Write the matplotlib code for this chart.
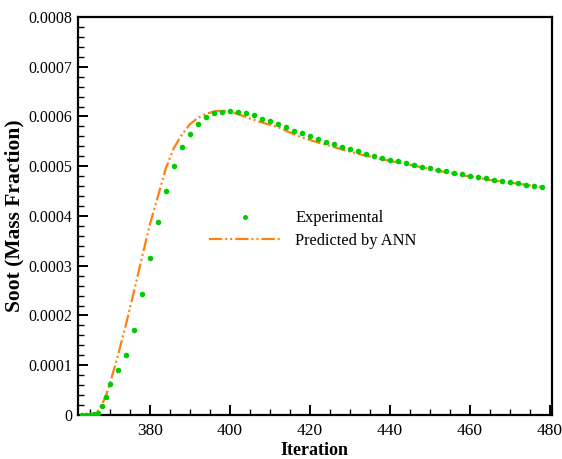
import matplotlib
matplotlib.use("Agg")
import matplotlib.pyplot as plt
from matplotlib.ticker import MultipleLocator, FixedLocator
import numpy as np

plt.rcParams['font.family'] = ['Liberation Serif', 'DejaVu Serif']
plt.rcParams['lines.scale_dashes'] = False

# experimental soot mass fraction
exp_iter = [363, 364, 365, 366, 367, 368, 369, 370, 372, 374, 376, 378, 380, 382, 384,
            386, 388, 390, 392, 394, 396, 398, 400, 402, 404, 406, 408, 410, 412, 414,
            416, 418, 420, 422, 424, 426, 428, 430, 432, 434, 436, 438, 440, 442, 444,
            446, 448, 450, 452, 454, 456, 458, 460, 462, 464, 466, 468, 470, 472, 474,
            476, 478]
exp_soot = [0.0, 0.0, 0.0000005, 0.000001, 0.0000046, 0.0000175, 0.000037, 0.000062,
            0.000091, 0.00012, 0.000171, 0.000243, 0.000316, 0.000387, 0.00045,
            0.0005, 0.000538, 0.000565, 0.000585, 0.000598, 0.000606, 0.00061, 0.000611,
            0.00061, 0.000606, 0.000602, 0.000595, 0.00059, 0.000584, 0.000578,
            0.000571, 0.000567, 0.000561, 0.000554, 0.000549, 0.000544, 0.000539,
            0.000535, 0.00053, 0.000525, 0.000521, 0.000517, 0.000513, 0.00051,
            0.000507, 0.000503, 0.000499, 0.000496, 0.000493, 0.00049, 0.000486,
            0.000484, 0.000481, 0.000478, 0.000476, 0.000473, 0.00047, 0.000468,
            0.000466, 0.000463, 0.00046, 0.000458]

# ANN prediction
ann_iter = [363, 365, 366, 367, 368, 369, 370, 372, 374, 376, 378, 380, 382, 384, 386,
            388, 390, 392, 394, 396, 398, 400, 402, 405, 408, 412, 415, 418, 422, 425,
            428, 432, 438, 445, 452, 458, 466, 472, 478]
ann_soot = [0.0, 0.000001, 0.000003, 0.000008, 0.00002, 0.000038, 0.000062, 0.000118,
            0.00018, 0.000246, 0.000315, 0.000382, 0.000438, 0.000495, 0.000536,
            0.000563, 0.000584, 0.000597, 0.000605, 0.00061, 0.000612, 0.00061,
            0.000605, 0.000596, 0.000588, 0.000579, 0.000568, 0.000558, 0.000548,
            0.000541, 0.000534, 0.000525, 0.000514, 0.000503, 0.000491, 0.000482,
            0.000471, 0.000465, 0.000458]

y_ticks = [0, 0.0001, 0.0002, 0.0003, 0.0004, 0.0005, 0.0006, 0.0007, 0.0008]
y_labels = ['0', '0.0001', '0.0002', '0.0003', '0.0004', '0.0005', '0.0006', '0.0007', '0.0008']

fig = plt.figure(figsize=(5.62, 4.59), dpi=100)
ax = fig.add_axes([0.1383, 0.0959, 0.8434, 0.8671])

ax.plot(exp_iter, exp_soot, linestyle='none', marker='o', markersize=4,
        color='#00cc00', markeredgewidth=0, label='Experimental', zorder=3)
ax.plot(ann_iter, ann_soot, color='#ff8010', linewidth=1.6,
        linestyle=(0, (9.5, 2.2, 1.4, 2.2, 1.4, 2.2)), label='Predicted by ANN', zorder=2)

ax.set_xlim(362, 480.5)
ax.set_ylim(0, 0.0008)
ax.xaxis.set_major_locator(MultipleLocator(20))
ax.xaxis.set_minor_locator(MultipleLocator(5))
ax.yaxis.set_major_locator(FixedLocator(y_ticks))
ax.set_yticklabels(y_labels)
ax.yaxis.set_minor_locator(MultipleLocator(0.00002))

for s in ax.spines.values():
    s.set_linewidth(1.6)
ax.tick_params(which='both', direction='in', top=False, right=False, labelsize=11.5)
ax.tick_params(axis='x', labelsize=12.5)
ax.tick_params(which='major', length=7, width=1.4)
ax.tick_params(which='minor', length=4, width=1.0)
ax.tick_params(axis='x', pad=6)
ax.tick_params(axis='y', pad=4)

ax.set_xlabel('Iteration', fontsize=13, fontweight='bold', labelpad=2)
ax.set_ylabel('Soot (Mass Fraction)', fontsize=15.5, fontweight='bold', labelpad=3)

ax.legend(loc='center left', bbox_to_anchor=(0.276, 0.466), frameon=False,
          fontsize=11.8, handlelength=4.5, handletextpad=0.8, borderpad=0,
          borderaxespad=0, labelspacing=0.4, markerscale=0.9)

fig.savefig('out.png', dpi=100)
